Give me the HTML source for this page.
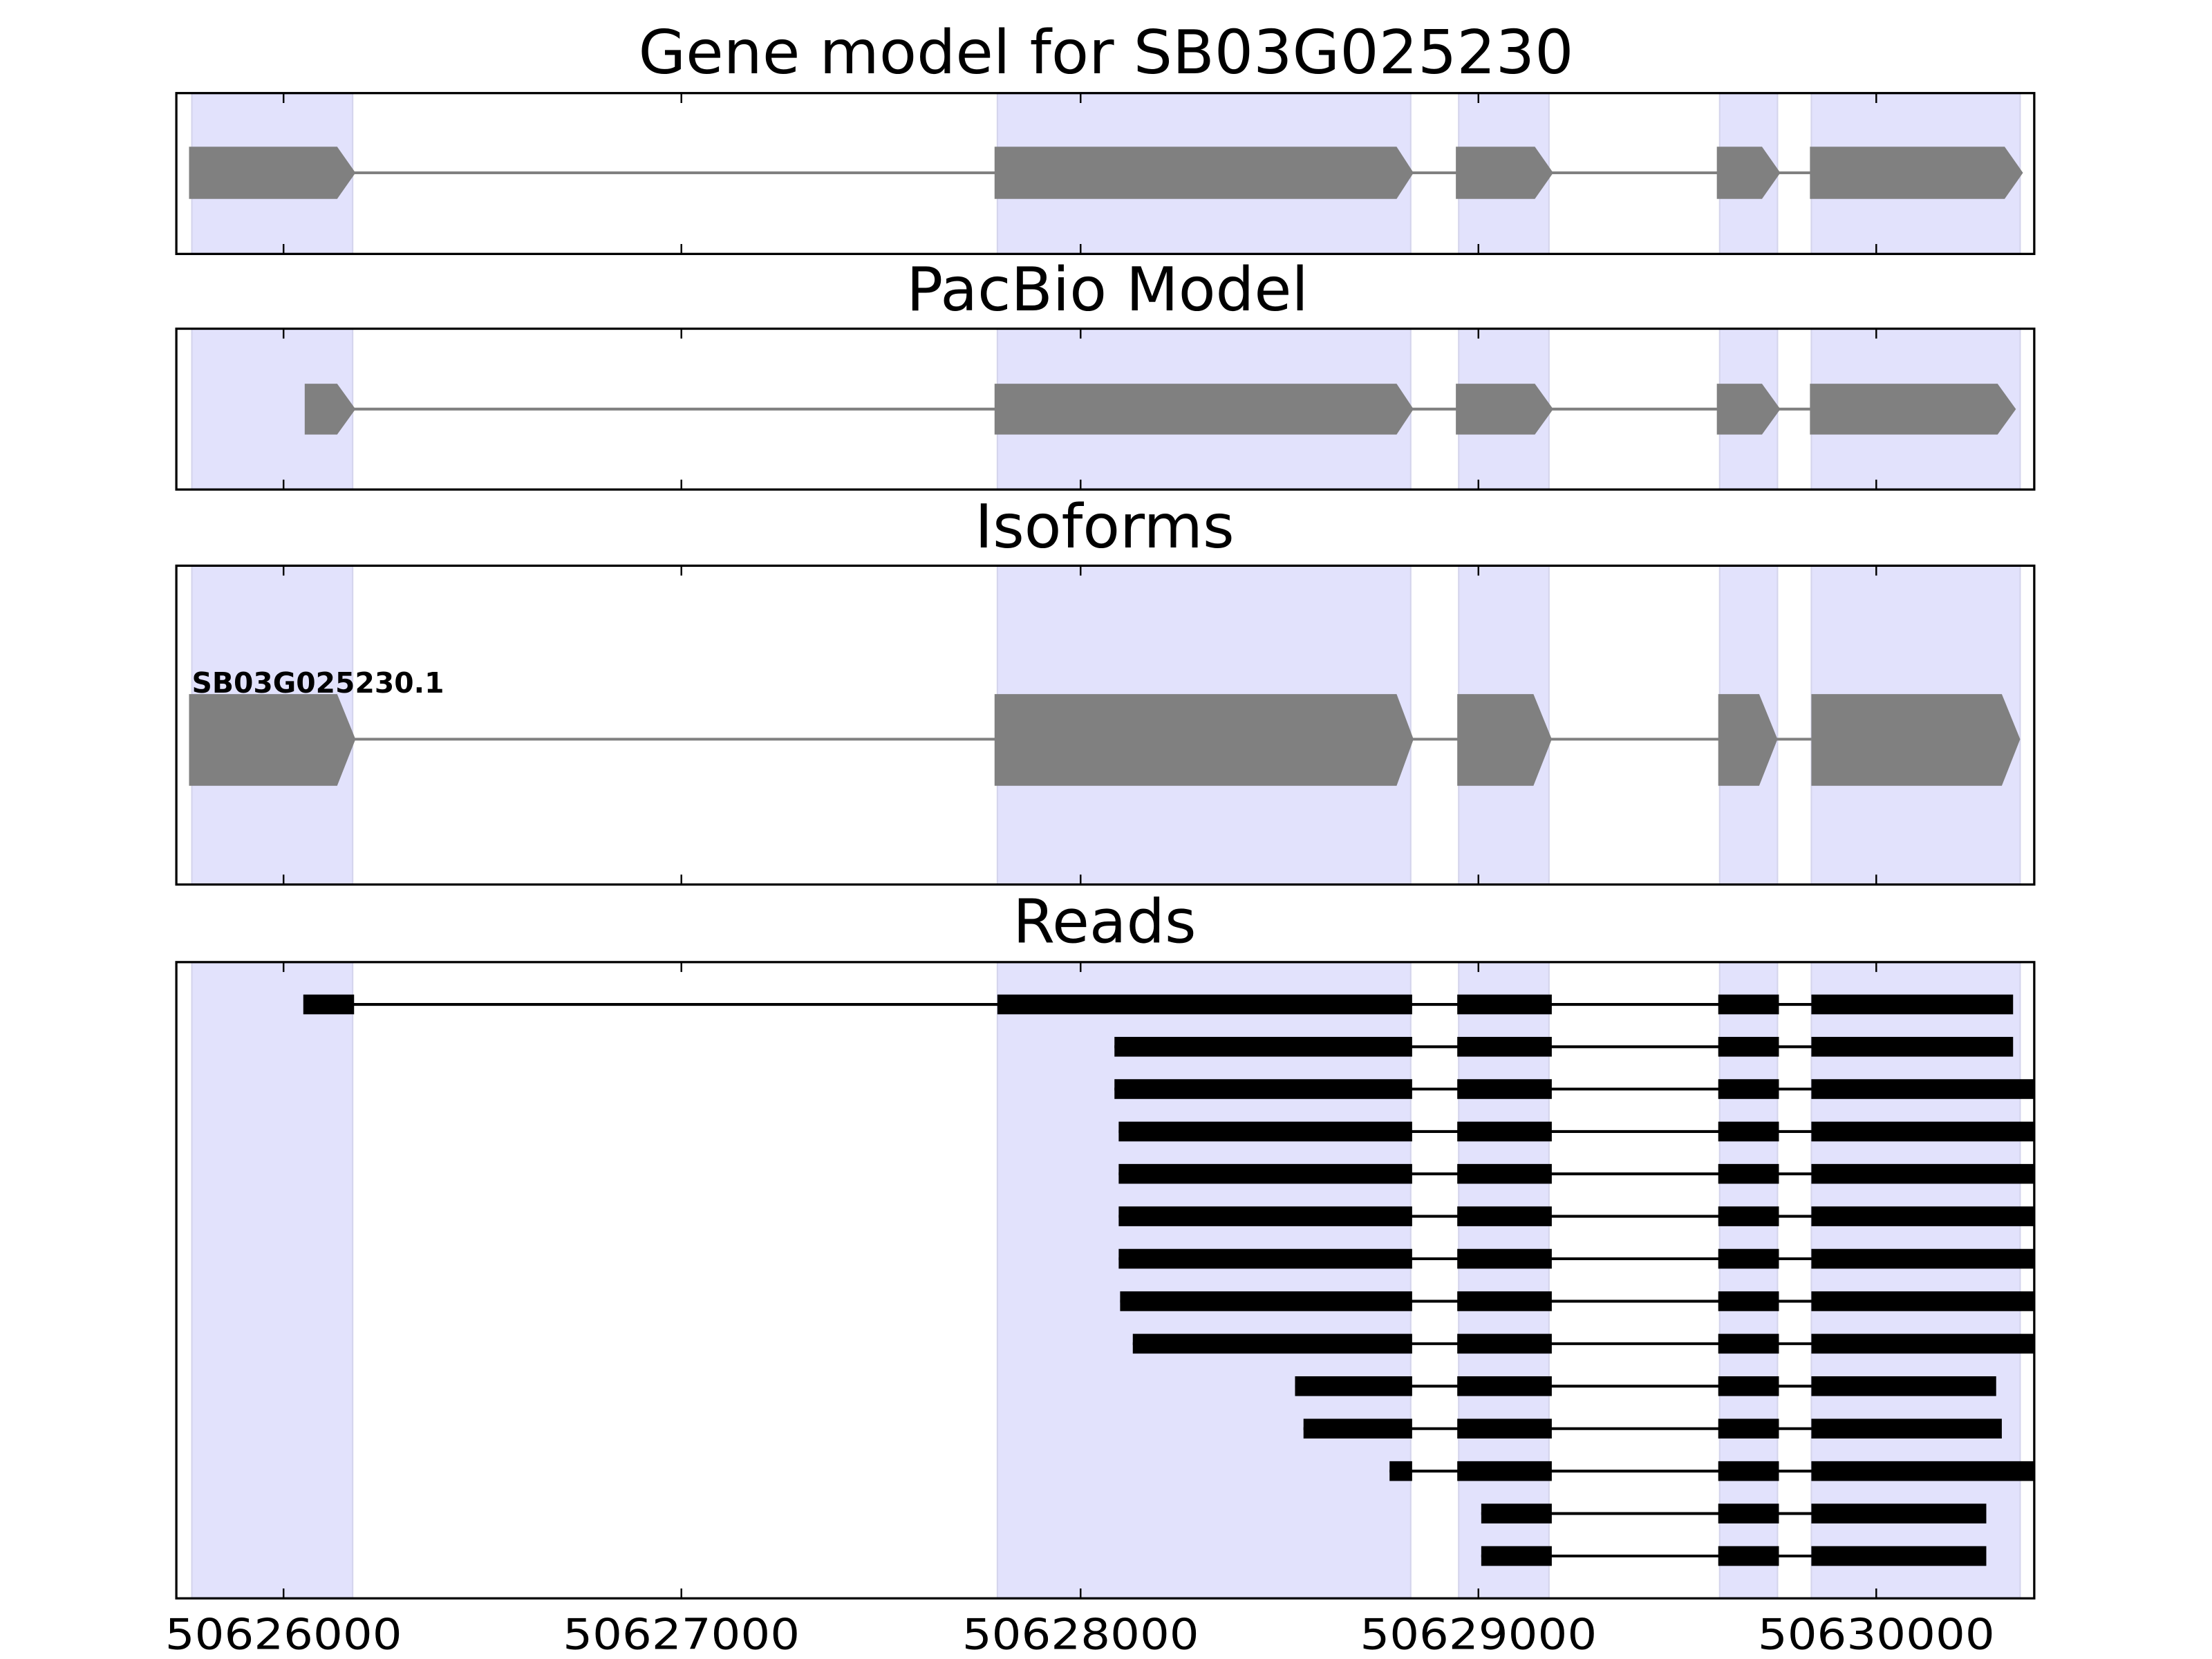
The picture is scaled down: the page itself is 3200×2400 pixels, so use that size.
<!DOCTYPE html>
<html><head><meta charset="utf-8"><style>html,body{margin:0;padding:0;background:#fff}svg{display:block}</style></head><body>
<svg width="3200" height="2400" viewBox="0 0 1568 1176" xmlns="http://www.w3.org/2000/svg" font-family="DejaVu Sans, Liberation Sans, sans-serif">
<defs>
<clipPath id="c4"><rect x="125" y="682" width="1317" height="451"/></clipPath>
</defs>
<rect width="1568" height="1176" fill="#fff"/>
<g fill="#e2e2fc" stroke="#d4d4ec" stroke-width="1">
<rect x="136" y="66" width="114" height="114"/><rect x="707" y="66" width="293" height="114"/><rect x="1034" y="66" width="64" height="114"/><rect x="1219" y="66" width="41" height="114"/><rect x="1284" y="66" width="148" height="114"/>
<rect x="136" y="233" width="114" height="114"/><rect x="707" y="233" width="293" height="114"/><rect x="1034" y="233" width="64" height="114"/><rect x="1219" y="233" width="41" height="114"/><rect x="1284" y="233" width="148" height="114"/>
<rect x="136" y="401" width="114" height="226"/><rect x="707" y="401" width="293" height="226"/><rect x="1034" y="401" width="64" height="226"/><rect x="1219" y="401" width="41" height="226"/><rect x="1284" y="401" width="148" height="226"/>
<rect x="136" y="682" width="114" height="451"/><rect x="707" y="682" width="293" height="451"/><rect x="1034" y="682" width="64" height="451"/><rect x="1219" y="682" width="41" height="451"/><rect x="1284" y="682" width="148" height="451"/>
</g>
<g fill="#808080" stroke="none">
<line x1="250" y1="122.5" x2="1284" y2="122.5" stroke="#808080" stroke-width="2"/>
<polygon points="134,104 239,104 252,122.5 239,141 134,141"/>
<polygon points="705,104 990,104 1002,122.5 990,141 705,141"/>
<polygon points="1032,104 1088,104 1101,122.5 1088,141 1032,141"/>
<polygon points="1217,104 1249,104 1262,122.5 1249,141 1217,141"/>
<polygon points="1283,104 1421,104 1434,122.5 1421,141 1283,141"/>
</g>
<g fill="#808080">
<line x1="250" y1="290" x2="1284" y2="290" stroke="#808080" stroke-width="2"/>
<polygon points="216,272 239,272 252,290 239,308 216,308"/>
<polygon points="705,272 990,272 1002,290 990,308 705,308"/>
<polygon points="1032,272 1088,272 1101,290 1088,308 1032,308"/>
<polygon points="1217,272 1249,272 1262,290 1249,308 1217,308"/>
<polygon points="1283,272 1416,272 1429,290 1416,308 1283,308"/>
</g>
<g fill="#808080">
<line x1="250" y1="524" x2="1284" y2="524" stroke="#808080" stroke-width="2"/>
<polygon points="134,492 239,492 252,524 239,557 134,557"/>
<polygon points="705,492 990,492 1002,524 990,557 705,557"/>
<polygon points="1033,492 1087,492 1100,524 1087,557 1033,557"/>
<polygon points="1218,492 1247,492 1260,524 1247,557 1218,557"/>
<polygon points="1284,492 1419,492 1432,524 1419,557 1284,557"/>
</g>
<text x="136" y="491" font-size="20" font-weight="bold">SB03G025230.1</text>
<g clip-path="url(#c4)" fill="#000">
<g>
<line x1="233" y1="712" x2="1300" y2="712" stroke="#000" stroke-width="2"/>
<rect x="215" y="705" width="36" height="14"/><rect x="707" y="705" width="294" height="14"/><rect x="1033" y="705" width="67" height="14"/><rect x="1218" y="705" width="43" height="14"/><rect x="1284" y="705" width="143" height="14"/>
</g>
<g transform="translate(0,30)"><line x1="790" y1="712" x2="1300" y2="712" stroke="#000" stroke-width="2"/><rect x="790" y="705" width="211" height="14"/><rect x="1033" y="705" width="67" height="14"/><rect x="1218" y="705" width="43" height="14"/><rect x="1284" y="705" width="143" height="14"/></g>
<g transform="translate(0,60)"><line x1="790" y1="712" x2="1300" y2="712" stroke="#000" stroke-width="2"/><rect x="790" y="705" width="211" height="14"/><rect x="1033" y="705" width="67" height="14"/><rect x="1218" y="705" width="43" height="14"/><rect x="1284" y="705" width="160" height="14"/></g>
<g transform="translate(0,90.1)"><line x1="793" y1="712" x2="1300" y2="712" stroke="#000" stroke-width="2"/><rect x="793" y="705" width="208" height="14"/><rect x="1033" y="705" width="67" height="14"/><rect x="1218" y="705" width="43" height="14"/><rect x="1284" y="705" width="160" height="14"/></g>
<g transform="translate(0,120.1)"><line x1="793" y1="712" x2="1300" y2="712" stroke="#000" stroke-width="2"/><rect x="793" y="705" width="208" height="14"/><rect x="1033" y="705" width="67" height="14"/><rect x="1218" y="705" width="43" height="14"/><rect x="1284" y="705" width="160" height="14"/></g>
<g transform="translate(0,150.2)"><line x1="793" y1="712" x2="1300" y2="712" stroke="#000" stroke-width="2"/><rect x="793" y="705" width="208" height="14"/><rect x="1033" y="705" width="67" height="14"/><rect x="1218" y="705" width="43" height="14"/><rect x="1284" y="705" width="160" height="14"/></g>
<g transform="translate(0,180.3)"><line x1="793" y1="712" x2="1300" y2="712" stroke="#000" stroke-width="2"/><rect x="793" y="705" width="208" height="14"/><rect x="1033" y="705" width="67" height="14"/><rect x="1218" y="705" width="43" height="14"/><rect x="1284" y="705" width="160" height="14"/></g>
<g transform="translate(0,210.4)"><line x1="794" y1="712" x2="1300" y2="712" stroke="#000" stroke-width="2"/><rect x="794" y="705" width="207" height="14"/><rect x="1033" y="705" width="67" height="14"/><rect x="1218" y="705" width="43" height="14"/><rect x="1284" y="705" width="160" height="14"/></g>
<g transform="translate(0,240.5)"><line x1="803" y1="712" x2="1300" y2="712" stroke="#000" stroke-width="2"/><rect x="803" y="705" width="198" height="14"/><rect x="1033" y="705" width="67" height="14"/><rect x="1218" y="705" width="43" height="14"/><rect x="1284" y="705" width="160" height="14"/></g>
<g transform="translate(0,270.6)"><line x1="918" y1="712" x2="1300" y2="712" stroke="#000" stroke-width="2"/><rect x="918" y="705" width="83" height="14"/><rect x="1033" y="705" width="67" height="14"/><rect x="1218" y="705" width="43" height="14"/><rect x="1284" y="705" width="131" height="14"/></g>
<g transform="translate(0,300.7)"><line x1="924" y1="712" x2="1300" y2="712" stroke="#000" stroke-width="2"/><rect x="924" y="705" width="77" height="14"/><rect x="1033" y="705" width="67" height="14"/><rect x="1218" y="705" width="43" height="14"/><rect x="1284" y="705" width="135" height="14"/></g>
<g transform="translate(0,330.8)"><line x1="985" y1="712" x2="1300" y2="712" stroke="#000" stroke-width="2"/><rect x="985" y="705" width="16" height="14"/><rect x="1033" y="705" width="67" height="14"/><rect x="1218" y="705" width="43" height="14"/><rect x="1284" y="705" width="160" height="14"/></g>
<g transform="translate(0,360.9)"><line x1="1050" y1="712" x2="1300" y2="712" stroke="#000" stroke-width="2"/><rect x="1050" y="705" width="50" height="14"/><rect x="1218" y="705" width="43" height="14"/><rect x="1284" y="705" width="124" height="14"/></g>
<g transform="translate(0,391)"><line x1="1050" y1="712" x2="1300" y2="712" stroke="#000" stroke-width="2"/><rect x="1050" y="705" width="50" height="14"/><rect x="1218" y="705" width="43" height="14"/><rect x="1284" y="705" width="124" height="14"/></g>
</g>
<g fill="none" stroke="#000" stroke-width="1.6">
<rect x="125" y="66" width="1317" height="114"/>
<rect x="125" y="233" width="1317" height="114"/>
<rect x="125" y="401" width="1317" height="226"/>
<rect x="125" y="682" width="1317" height="451"/>
</g>
<g fill="none" stroke="#000" stroke-width="1.2">
<path d="M201,66v7M483,66v7M766,66v7M1048,66v7M1330,66v7M201,180v-7M483,180v-7M766,180v-7M1048,180v-7M1330,180v-7
M201,233v7M483,233v7M766,233v7M1048,233v7M1330,233v7M201,347v-7M483,347v-7M766,347v-7M1048,347v-7M1330,347v-7
M201,401v7M483,401v7M766,401v7M1048,401v7M1330,401v7M201,627v-7M483,627v-7M766,627v-7M1048,627v-7M1330,627v-7
M201,682v7M483,682v7M766,682v7M1048,682v7M1330,682v7M201,1133v-7M483,1133v-7M766,1133v-7M1048,1133v-7M1330,1133v-7"/>
</g>
<g font-size="43" text-anchor="middle">
<text x="784" y="52" textLength="663" lengthAdjust="spacingAndGlyphs">Gene model for SB03G025230</text>
<text x="785" y="220" textLength="285" lengthAdjust="spacingAndGlyphs">PacBio Model</text>
<text x="783" y="388" textLength="184" lengthAdjust="spacingAndGlyphs">Isoforms</text>
<text x="783" y="668" textLength="130" lengthAdjust="spacingAndGlyphs">Reads</text>
</g>
<g font-size="30" text-anchor="middle">
<text x="201" y="1169" textLength="168" lengthAdjust="spacingAndGlyphs">50626000</text>
<text x="483" y="1169" textLength="168" lengthAdjust="spacingAndGlyphs">50627000</text>
<text x="766" y="1169" textLength="168" lengthAdjust="spacingAndGlyphs">50628000</text>
<text x="1048" y="1169" textLength="168" lengthAdjust="spacingAndGlyphs">50629000</text>
<text x="1330" y="1169" textLength="168" lengthAdjust="spacingAndGlyphs">50630000</text>
</g>
</svg>
</body></html>
